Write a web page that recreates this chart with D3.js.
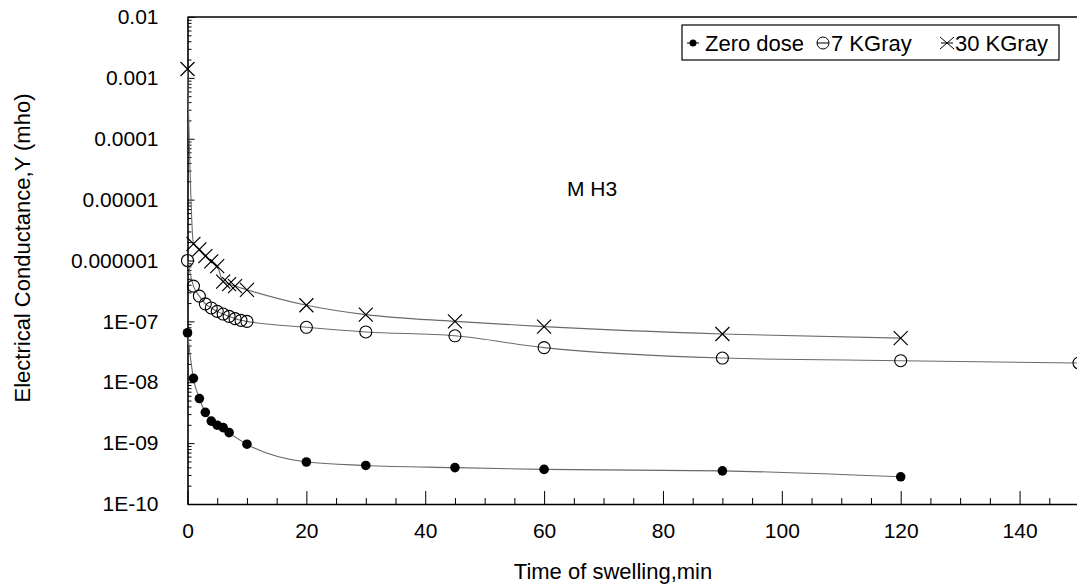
<!DOCTYPE html>
<html>
<head>
<meta charset="utf-8">
<script src="https://cdn.jsdelivr.net/npm/d3@7"></script>
<style>
  body { margin: 0; background: #fff; }
  text { font-family: "Liberation Sans", Arial, sans-serif; fill: #000; }
</style>
</head>
<body>
<svg id="chart"></svg>
<script>
// values (sample MH3)
const timeZero = [0, 1, 2, 3, 4, 5, 6, 7, 10, 20, 30, 45, 60, 90, 120];
const zeroDose = [6.5e-8, 1.16e-8, 5.4e-9, 3.2e-9, 2.3e-9, 1.97e-9, 1.8e-9, 1.49e-9,
                  9.6e-10, 4.9e-10, 4.3e-10, 3.96e-10, 3.7e-10, 3.5e-10, 2.8e-10];

const time7 = [0, 1, 2, 3, 4, 5, 6, 7, 8, 9, 10, 20, 30, 45, 60, 90, 120, 150];
const kGray7 = [1.0e-6, 3.8e-7, 2.6e-7, 1.94e-7, 1.66e-7, 1.46e-7, 1.32e-7, 1.21e-7, 1.11e-7,
                1.04e-7, 1.0e-7, 8.0e-8, 6.7e-8, 5.8e-8, 3.7e-8, 2.5e-8, 2.26e-8, 2.07e-8];

const time30 = [0, 1, 2, 3, 4, 5, 6, 7, 8, 10, 20, 30, 45, 60, 90, 120];
const kGray30 = [1.4e-3, 1.88e-6, 1.52e-6, 1.18e-6, 9.7e-7, 8.1e-7, 4.5e-7, 4.1e-7, 3.8e-7,
                 3.3e-7, 1.84e-7, 1.29e-7, 1.0e-7, 8.2e-8, 6.2e-8, 5.3e-8];

const seriesNames = ["Zero dose", "7 KGray", "30 KGray"];
const xTicks = [0, 20, 40, 60, 80, 100, 120, 140];
const yTicks = [1e-10, 1e-9, 1e-8, 1e-7, 1e-6, 1e-5, 1e-4, 1e-3, 1e-2];
const yTickLabels = ["1E-10", "1E-09", "1E-08", "1E-07", "0.000001", "0.00001", "0.0001", "0.001", "0.01"];

const fullWidth = 1077;
const fullHeight = 585;
const margin = {top: 17, left: 187.5, bottom: 81};

const svg = d3.select('#chart')
              .attr('width', fullWidth)
              .attr('height', fullHeight);

const x = d3.scaleLinear().domain([0, 150]).range([margin.left, 1079]);
const y = d3.scaleLog().domain([1e-10, 1e-2]).range([fullHeight - margin.bottom, margin.top]);

// minor ticks
const yMinor = [];
yTicks.slice(0, -1).forEach(d => {
  for (let k = 2; k <= 9; k++) yMinor.push(d * k);
});
const xMinor = d3.range(5, 150, 5).filter(d => d % 20 !== 0);

svg.append('g')
    .attr('transform', 'translate(' + margin.left + ',0)')
    .call(d3.axisLeft(y).tickValues(yMinor).tickFormat('').tickSizeInner(-4).tickSizeOuter(0))
    .call(g => g.select('.domain').remove());

svg.append('g')
    .attr('transform', 'translate(0,' + y(1e-10) + ')')
    .call(d3.axisBottom(x).tickValues(xMinor).tickFormat('').tickSizeInner(-6).tickSizeOuter(0))
    .call(g => g.select('.domain').remove());

// major axes
svg.append('g')
    .attr('transform', 'translate(' + margin.left + ',0)')
    .call(d3.axisLeft(y)
            .tickValues(yTicks)
            .tickFormat((d, i) => yTickLabels[i])
            .tickSizeInner(-7)
            .tickSizeOuter(0)
            .tickPadding(29));

svg.append('g')
    .attr('transform', 'translate(0,' + y(1e-10) + ')')
    .call(d3.axisBottom(x)
            .tickValues(xTicks)
            .tickSizeInner(-13)
            .tickSizeOuter(0)
            .tickPadding(19));

svg.selectAll('.tick line').attr('stroke', '#000');
svg.selectAll('.tick text').attr('font-size', 21).attr('font-family', '"Liberation Sans", Arial, sans-serif');
svg.selectAll('.domain').attr('stroke', '#000').attr('stroke-width', 1.6);

// top border of the plot area
svg.append('line')
    .attr('x1', margin.left).attr('x2', fullWidth)
    .attr('y1', y(1e-2)).attr('y2', y(1e-2))
    .attr('stroke', '#000').attr('stroke-width', 1.6);

// smoothed connecting lines
const line = d3.line()
    .x(d => x(d[0]))
    .y(d => y(d[1]))
    .curve(d3.curveMonotoneX);

const series = [
  d3.zip(timeZero, zeroDose),
  d3.zip(time7, kGray7),
  d3.zip(time30, kGray30)
];

svg.append('g').selectAll('path')
  .data(series)
  .enter().append('path')
    .attr('d', line)
    .attr('fill', 'none')
    .attr('stroke', '#6a6a6a')
    .attr('stroke-width', 1.1);

// markers
function drawMarker(g, type) {
  if (type === 0) {
    g.append('circle').attr('r', 4.8).attr('fill', '#000');
  } else if (type === 1) {
    g.append('circle').attr('r', 6).attr('fill', 'none').attr('stroke', '#000').attr('stroke-width', 1.1);
  } else {
    g.append('path').attr('d', 'M-7,-7L7,7M-7,7L7,-7').attr('stroke', '#000').attr('stroke-width', 1.2);
  }
}

series.forEach((pts, i) => {
  svg.append('g').selectAll('g')
    .data(pts)
    .enter().append('g')
      .attr('transform', d => 'translate(' + x(d[0]) + ',' + y(d[1]) + ')')
      .each(function() { drawMarker(d3.select(this), i); });
});

// label inside the plot
svg.append('text')
    .attr('x', 567).attr('y', 196)
    .attr('font-size', 21)
    .text('M H3');

// legend
const legend = svg.append('g');
legend.append('rect')
    .attr('x', 682).attr('y', 25)
    .attr('width', 377).attr('height', 35)
    .attr('fill', '#fff').attr('stroke', '#000').attr('stroke-width', 1.2);

const legendX = [693, 823, 947];
seriesNames.forEach((name, i) => {
  const item = legend.append('g').attr('transform', 'translate(' + legendX[i] + ',43)');
  item.append('line').attr('x1', -6).attr('x2', 6).attr('stroke', '#000').attr('stroke-width', 1);
  const m = item.append('g');
  if (i === 0) m.append('circle').attr('r', 3.5).attr('fill', '#000');
  else if (i === 1) m.append('circle').attr('r', 6).attr('fill', 'none').attr('stroke', '#000');
  else m.append('path').attr('d', 'M-7,-6L7,6M-7,6L7,-6').attr('stroke', '#000');
  item.append('text')
      .attr('x', i === 0 ? 12 : 8)
      .attr('y', 8)
      .attr('font-size', 22)
      .text(name);
});

// axis titles
svg.append('text')
    .attr('x', 613).attr('y', 579)
    .attr('text-anchor', 'middle')
    .attr('font-size', 22)
    .text('Time of swelling,min');

svg.append('text')
    .attr('transform', 'translate(30,248) rotate(-90)')
    .attr('text-anchor', 'middle')
    .attr('font-size', 22)
    .text('Electrical Conductance,Y (mho)');
</script>
</body>
</html>
